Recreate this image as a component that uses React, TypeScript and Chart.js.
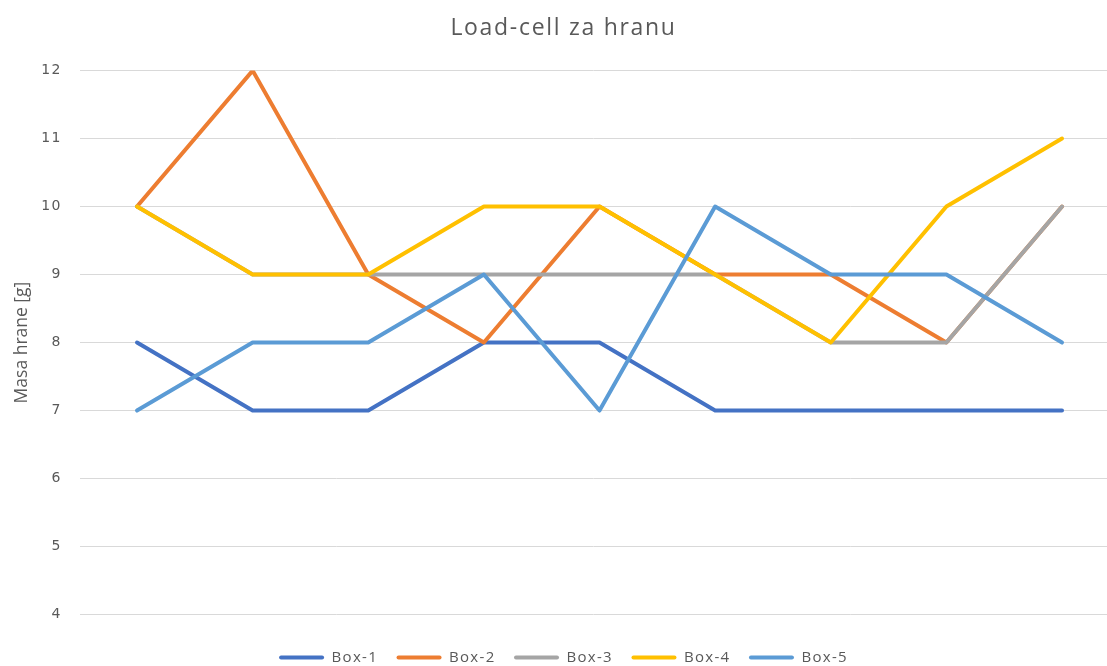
import React, { useEffect, useRef } from "react";
import { Chart, registerables } from "chart.js";

Chart.register(...registerables);

const categories = ["1", "2", "3", "4", "5", "6", "7", "8", "9"];
const box1 = [8, 7, 7, 8, 8, 7, 7, 7, 7];
const box2 = [10, 12, 9, 8, 10, 9, 9, 8, 10];
const box3 = [10, 9, 9, 9, 9, 9, 8, 8, 10];
const box4 = [10, 9, 9, 10, 10, 9, 8, 10, 11];
const box5 = [7, 8, 8, 9, 7, 10, 9, 9, 8];
const seriesNames = ["Box-1", "Box-2", "Box-3", "Box-4", "Box-5"];
const seriesColors = ["#4472C4", "#ED7D31", "#A5A5A5", "#FFC000", "#5B9BD5"];
const yTicks = [4, 5, 6, 7, 8, 9, 10, 11, 12];

const TEXT = "#595959";
const TITLE_FONT = 23;
const LEGEND_FONT = 15;
const TICK_FONT = 14;

function spacingFor(font: string): string {
  if (font.includes(TITLE_FONT + "px")) return "1.7px";
  if (font.includes(LEGEND_FONT + "px")) return "1.3px";
  if (font.includes(TICK_FONT + "px")) return "1.5px";
  return "0px";
}

export default function App() {
  const ref = useRef<HTMLCanvasElement | null>(null);

  useEffect(() => {
    const canvas = ref.current;
    if (!canvas) return;
    const ctx: any = canvas.getContext("2d");
    const origFill = ctx.fillText.bind(ctx);
    const origMeasure = ctx.measureText.bind(ctx);
    ctx.fillText = (t: string, x: number, y: number, w?: number) => {
      const prev = ctx.letterSpacing;
      ctx.letterSpacing = spacingFor(ctx.font);
      if (w === undefined) origFill(t, x, y);
      else origFill(t, x, y, w);
      ctx.letterSpacing = prev || "0px";
    };
    ctx.measureText = (t: string) => {
      const prev = ctx.letterSpacing;
      ctx.letterSpacing = spacingFor(ctx.font);
      const m = origMeasure(t);
      ctx.letterSpacing = prev || "0px";
      return m;
    };

    const all = [box1, box2, box3, box4, box5];
    const datasets = all.map((vals, i) => ({
      label: seriesNames[i],
      data: vals.map((v, k) => ({ x: k, y: v, c: categories[k] })),
      borderColor: seriesColors[i],
      backgroundColor: seriesColors[i],
      borderWidth: 4,
      pointRadius: 0,
      tension: 0,
      fill: false,
      borderCapStyle: "round" as const,
      borderJoinStyle: "round" as const,
      order: all.length - i,
    }));
    const chart = new Chart(ctx, {
      type: "line",
      data: { datasets },
      options: {
        animation: false,
        responsive: false,
        layout: { padding: { left: 20, right: 0, top: 0, bottom: 0 } },
        plugins: {
          title: {
            display: true,
            text: "Load-cell za hranu",
            color: TEXT,
            font: { family: "'Open Sans', sans-serif", size: TITLE_FONT, weight: "normal" },
            padding: { top: 15, bottom: 28 },
          },
          legend: {
            position: "bottom",
            labels: {
              color: TEXT,
              font: { family: "'Open Sans', sans-serif", size: LEGEND_FONT },
              boxWidth: 45,
              boxHeight: 4,
              padding: 18.5,
              generateLabels: (c: any) =>
                c.data.datasets.map((d: any, i: number) => ({
                  text: d.label,
                  fillStyle: d.borderColor,
                  strokeStyle: d.borderColor,
                  lineWidth: 0,
                  hidden: false,
                  datasetIndex: i,
                  fontColor: TEXT,
                  borderRadius: 2,
                })),
            },
          },
          tooltip: { enabled: false },
        },
        scales: {
          x: {
            type: "linear",
            min: -0.493,
            max: 8.389,
            grid: { display: false },
            border: { display: false },
            ticks: { display: false },
            afterFit: (s: any) => {
              s.height = 17;
            },
          },
          y: {
            min: 4,
            max: 12,
            afterBuildTicks: (s: any) => {
              s.ticks = yTicks.map((v) => ({ value: v }));
            },
            grid: { color: "#D9D9D9", lineWidth: 1, drawTicks: false },
            border: { display: false },
            ticks: {
              color: TEXT,
              padding: 18,
              font: { family: "'DejaVu Sans', sans-serif", size: TICK_FONT },
            },
            title: {
              display: true,
              text: "Masa hrane [g]",
              color: TEXT,
              font: { family: "'Open Sans', sans-serif", size: 17.5 },
              padding: { top: -8.5, bottom: 0 },
            },
            afterFit: (s: any) => {
              s.width = 60;
            },
          },
        },
      },
    });
    return () => chart.destroy();
  }, []);

  return (
    <div
      style={{
        position: "fixed",
        left: 0,
        top: 0,
        width: 1107,
        height: 666,
        overflow: "hidden",
        background: "#fff",
      }}
    >
      <canvas ref={ref} width={1107} height={675} style={{ display: "block" }} />
    </div>
  );
}
